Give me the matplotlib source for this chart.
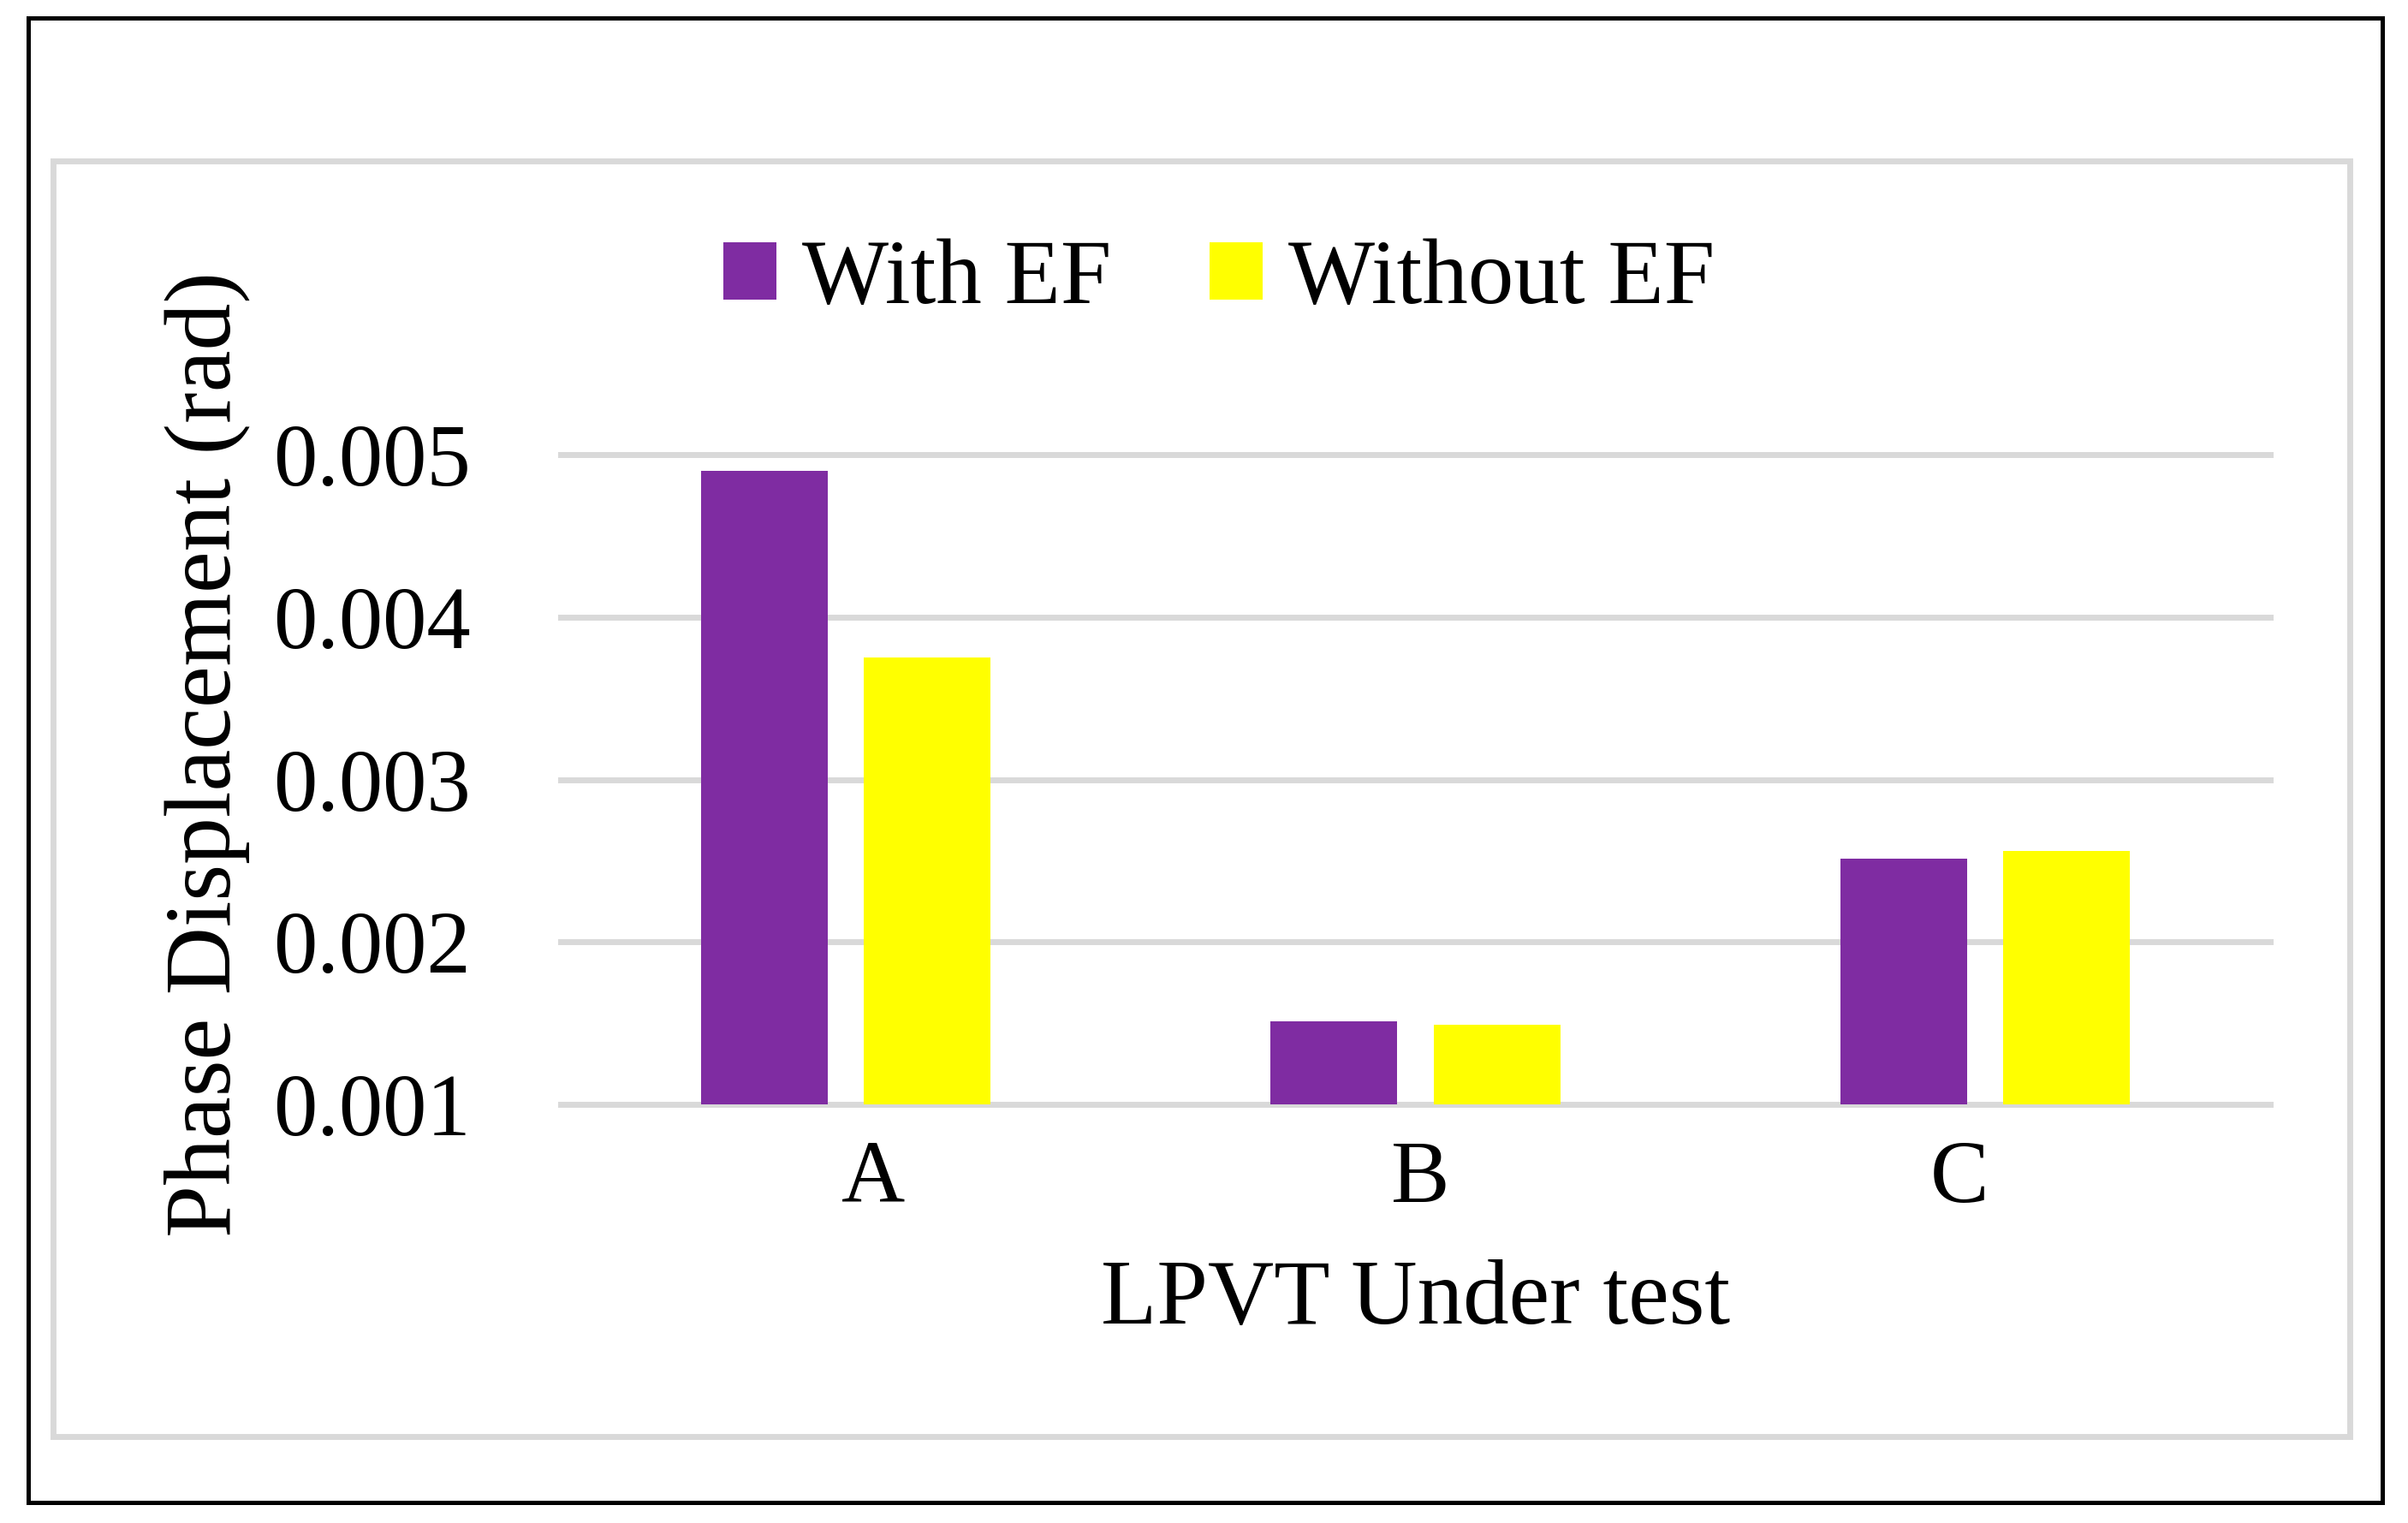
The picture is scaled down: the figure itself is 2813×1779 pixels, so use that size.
import numpy as np
import matplotlib
matplotlib.use("Agg")
import matplotlib.pyplot as plt
from matplotlib.patches import Rectangle, Patch

plt.rcParams['font.family'] = ['Liberation Serif', 'DejaVu Serif']

categories = ['A', 'B', 'C']
with_ef = [0.00490, 0.00151, 0.00251]
without_ef = [0.00375, 0.00149, 0.00256]
series_names = ['With EF', 'Without EF']
yticks = [0.001, 0.002, 0.003, 0.004, 0.005]
ytick_labels = ['0.001', '0.002', '0.003', '0.004', '0.005']

purple = '#7F2CA2'
yellow = '#FFFF00'
grid_grey = '#D9D9D9'

W, H, dpi = 2813, 1779, 200
fig = plt.figure(figsize=(W / dpi, H / dpi), dpi=dpi)
fig.patch.set_facecolor('white')

# frames
fig.patches.append(Rectangle((32.5 / W, 1 - 1755 / H), (2782.5 - 32.5) / W, (1755 - 20.5) / H,
                             transform=fig.transFigure, fill=False, edgecolor='black', lw=1.8))
fig.patches.append(Rectangle((62 / W, 1 - 1678 / H), (2745 - 62) / W, (1678 - 188) / H,
                             transform=fig.transFigure, fill=False, edgecolor=grid_grey, lw=2.5))

ax = fig.add_axes([655 / W, 1 - 1290 / H, (2652 - 655) / W, (1290 - 531) / H])
x = np.arange(len(categories))
bw = 0.222
off = 0.143
ax.bar(x - off, np.array(with_ef) - 0.001, bw, bottom=0.001, color=purple, zorder=3)
ax.bar(x + off, np.array(without_ef) - 0.001, bw, bottom=0.001, color=yellow, zorder=3)

ax.set_xlim(-0.5, 2.5)
ax.set_ylim(0.001, 0.005)
ax.set_yticks(yticks)
ax.set_yticklabels(ytick_labels)
# labels in the source sit slightly off the group centres
ax.set_xticks(x + np.array([0.048, 0.009, -0.045]))
ax.set_xticklabels(categories)
ax.tick_params(axis='both', length=0, labelsize=37)
ax.tick_params(axis='y', pad=38)
ax.tick_params(axis='x', pad=15)
for s in ax.spines.values():
    s.set_visible(False)
for yv in yticks:
    ax.axhline(yv, color=grid_grey, lw=2.5, zorder=1, clip_on=False)

fig.text(1654 / W, 1 - 1546 / H, 'LPVT Under test', ha='center', va='baseline', fontsize=38.5)
fig.text(242 / W, 1 - 881 / H, 'Phase Displacement (rad)', ha='center', va='center',
         rotation=90, fontsize=39.5)

handles = [Patch(facecolor=purple), Patch(facecolor=yellow)]
fig.legend(handles, series_names, loc='center', bbox_to_anchor=(1424 / W, 1 - 328 / H),
           ncol=2, frameon=False, fontsize=38.5, handlelength=0.58, handleheight=0.58,
           handletextpad=0.28, columnspacing=1.07, borderpad=0, borderaxespad=0)

fig.savefig('out.png', dpi=dpi)
